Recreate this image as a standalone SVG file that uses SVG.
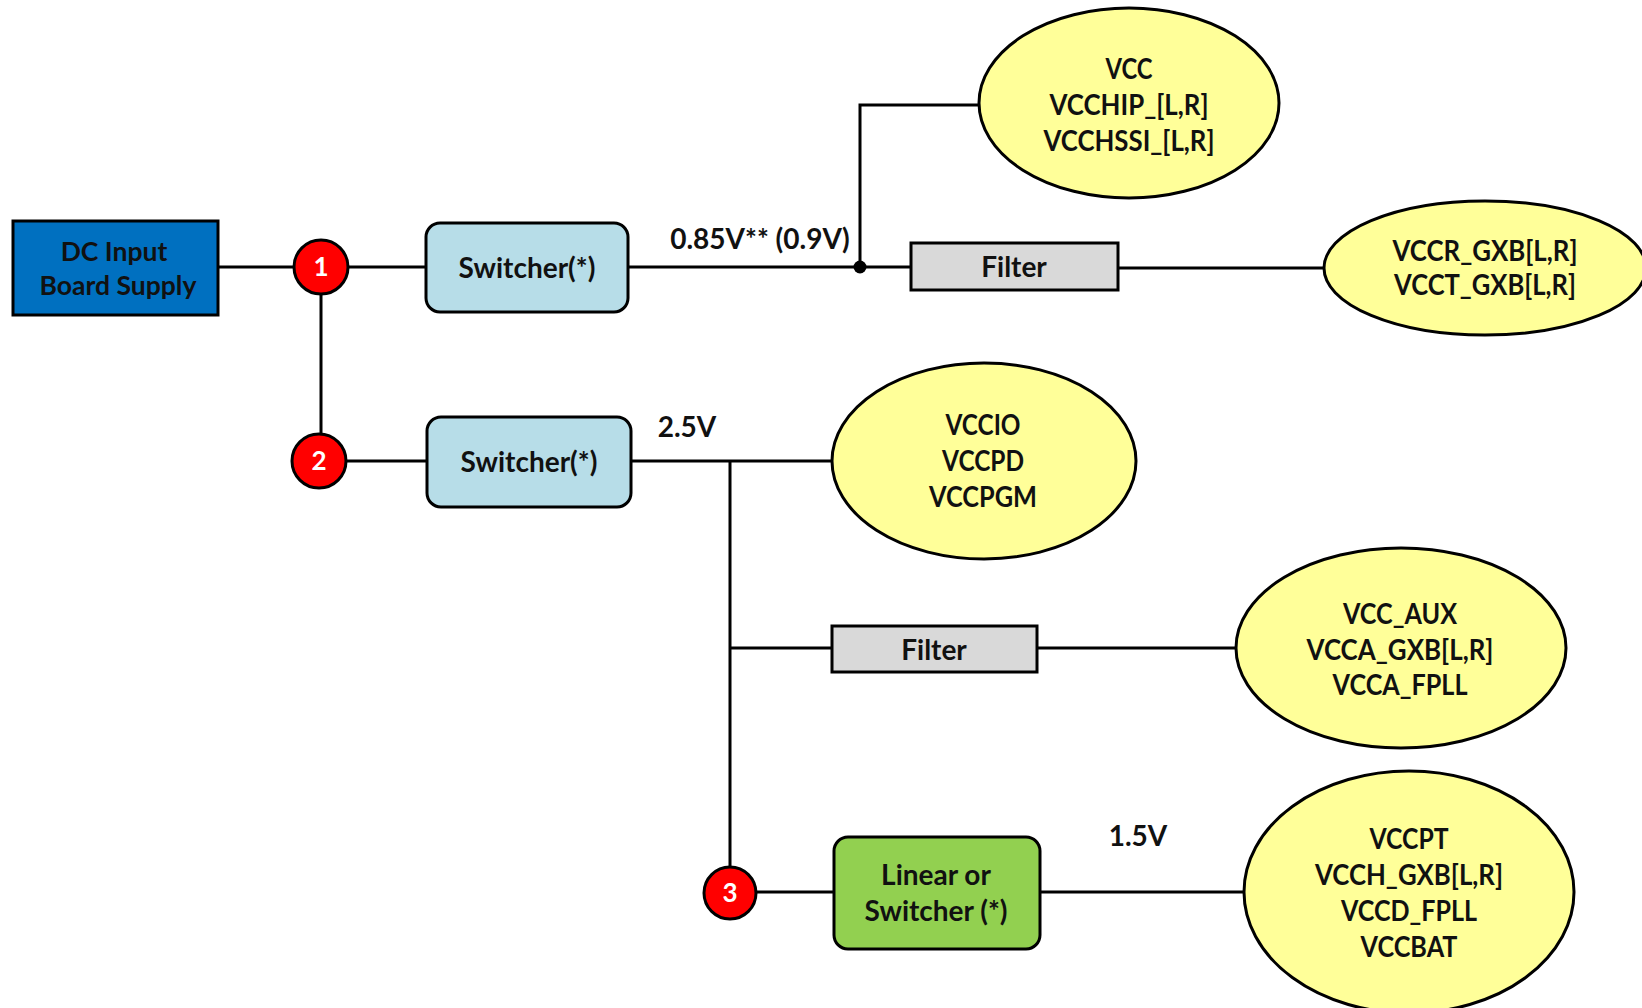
<svg xmlns="http://www.w3.org/2000/svg" width="1642" height="1008" viewBox="0 0 1642 1008">
<style>
.t{font-family:Lato,"Open Sans","Liberation Sans",sans-serif;font-weight:bold;font-size:28px;fill:#111;text-anchor:middle}
.e{font-family:Lato,"Open Sans","Liberation Sans",sans-serif;font-weight:bold;font-size:28px;fill:#111;text-anchor:middle}
.n{font-family:Lato,"Open Sans","Liberation Sans",sans-serif;font-weight:bold;font-size:26px;fill:#fff;text-anchor:middle}
.w{stroke:#000;stroke-width:3;fill:none}
.ell{fill:#FFFF99;stroke:#000;stroke-width:3}
.sw{fill:#B7DDE8;stroke:#000;stroke-width:3}
.flt{fill:#D9D9D9;stroke:#000;stroke-width:3}
.num{fill:#FF0000;stroke:#000;stroke-width:3}
</style>
<rect width="1642" height="1008" fill="#fff"/>
<g id="connectors">
<path class="w" d="M218 267H294"/>
<path class="w" d="M348 267H426"/>
<path class="w" d="M321 294V434"/>
<path class="w" d="M346 461H427"/>
<path class="w" d="M628 267H911"/>
<path class="w" d="M860 267V105H978"/>
<path class="w" d="M1118 268H1324"/>
<path class="w" d="M631 461H832"/>
<path class="w" d="M730 461V866"/>
<path class="w" d="M730 648H832"/>
<path class="w" d="M1037 648H1236"/>
<path class="w" d="M757 892H834"/>
<path class="w" d="M1040 892H1245"/>
<circle cx="860" cy="267" r="6.5" fill="#000"/>
<text class="t" x="760" y="249">0.85V** (0.9V)</text>
<text class="t" x="687" y="437">2.5V</text>
<text class="t" x="1138" y="846">1.5V</text>
</g>
<g id="dc-input">
<rect x="13" y="221" width="205" height="94" fill="#0070C0" stroke="#000" stroke-width="3"/>
<text class="t" x="114" y="261" style="font-size:26.5px">DC Input</text>
<text class="t" x="118" y="295" style="font-size:26.5px">Board Supply</text>
</g>
<g id="n1"><circle class="num" cx="321" cy="267" r="27"/><text class="n" x="321" y="276">1</text></g>
<g id="n2"><circle class="num" cx="319" cy="461" r="27"/><text class="n" x="319" y="470">2</text></g>
<g id="n3"><circle class="num" cx="730" cy="893" r="26"/><text class="n" x="730" y="902">3</text></g>
<g id="switcher1"><rect class="sw" x="426" y="223" width="202" height="89" rx="14"/><text class="t" x="527" y="278">Switcher(*)</text></g>
<g id="switcher2"><rect class="sw" x="427" y="417" width="204" height="90" rx="14"/><text class="t" x="529" y="472">Switcher(*)</text></g>
<g id="filter1"><rect class="flt" x="911" y="243" width="207" height="47"/><text class="t" x="1014" y="277">Filter</text></g>
<g id="filter2"><rect class="flt" x="832" y="626" width="205" height="46"/><text class="t" x="934" y="660">Filter</text></g>
<g id="linear"><rect x="834" y="837" width="206" height="112" rx="14" fill="#92D050" stroke="#000" stroke-width="3"/>
<text class="t" x="936" y="885">Linear or</text><text class="t" x="936" y="921">Switcher (*)</text></g>
<g id="e-vcc"><ellipse class="ell" cx="1129" cy="103" rx="150" ry="95"/>
<text class="e" x="1129" y="79" textLength="47" lengthAdjust="spacingAndGlyphs">VCC</text>
<text class="e" x="1129" y="115" textLength="159" lengthAdjust="spacingAndGlyphs">VCCHIP_[L,R]</text>
<text class="e" x="1129" y="151" textLength="171" lengthAdjust="spacingAndGlyphs">VCCHSSI_[L,R]</text></g>
<g id="e-vccr"><ellipse class="ell" cx="1485" cy="268" rx="161" ry="67"/>
<text class="e" x="1485" y="261" textLength="185" lengthAdjust="spacingAndGlyphs">VCCR_GXB[L,R]</text>
<text class="e" x="1485" y="295" textLength="182" lengthAdjust="spacingAndGlyphs">VCCT_GXB[L,R]</text></g>
<g id="e-vccio"><ellipse class="ell" cx="984" cy="461" rx="152" ry="98"/>
<text class="e" x="983" y="435" textLength="75" lengthAdjust="spacingAndGlyphs">VCCIO</text>
<text class="e" x="983" y="471" textLength="82" lengthAdjust="spacingAndGlyphs">VCCPD</text>
<text class="e" x="983" y="507" textLength="108" lengthAdjust="spacingAndGlyphs">VCCPGM</text></g>
<g id="e-vccaux"><ellipse class="ell" cx="1401" cy="648" rx="165" ry="100"/>
<text class="e" x="1400" y="624" textLength="114" lengthAdjust="spacingAndGlyphs">VCC_AUX</text>
<text class="e" x="1400" y="660" textLength="187" lengthAdjust="spacingAndGlyphs">VCCA_GXB[L,R]</text>
<text class="e" x="1400" y="695" textLength="135" lengthAdjust="spacingAndGlyphs">VCCA_FPLL</text></g>
<g id="e-vccpt"><ellipse class="ell" cx="1409" cy="892" rx="165" ry="121"/>
<text class="e" x="1409" y="849" textLength="79" lengthAdjust="spacingAndGlyphs">VCCPT</text>
<text class="e" x="1409" y="885" textLength="188" lengthAdjust="spacingAndGlyphs">VCCH_GXB[L,R]</text>
<text class="e" x="1409" y="921" textLength="136" lengthAdjust="spacingAndGlyphs">VCCD_FPLL</text>
<text class="e" x="1409" y="957" textLength="97" lengthAdjust="spacingAndGlyphs">VCCBAT</text></g>
</svg>
